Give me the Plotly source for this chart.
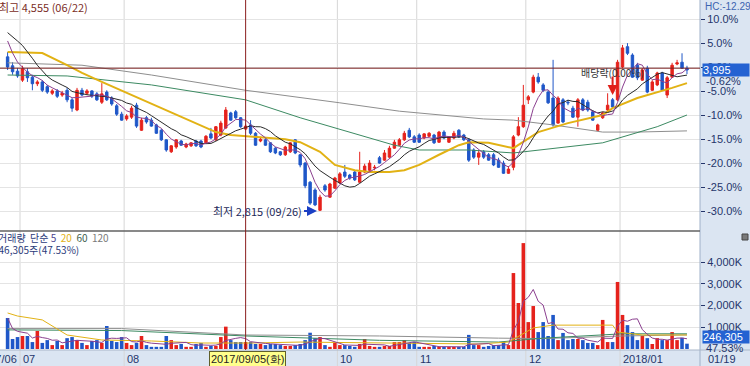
import pandas as pd
import plotly.graph_objects as go

# ---------------- data ----------------
holidays = ['2017-08-15', '2017-10-02', '2017-10-03', '2017-10-04', '2017-10-05',
            '2017-10-06', '2017-10-09', '2017-12-25', '2017-12-29', '2018-01-01']
dates = [d.strftime('%Y-%m-%d') for d in pd.bdate_range('2017-06-28', '2018-01-19')
         if d.strftime('%Y-%m-%d') not in holidays]

open_ = [4105, 4030, 3985, 3910, 3980, 3935, 3880, 3895, 3855, 3800, 3820, 3785, 3825, 3745, 3660, 3825,
         3800, 3820, 3795, 3725, 3810, 3760, 3695, 3625, 3585, 3600, 3700, 3490, 3595, 3575, 3535, 3490,
         3410, 3310, 3350, 3400, 3350, 3360, 3400, 3400, 3385, 3460, 3410, 3450, 3510, 3635, 3645, 3595,
         3500, 3535, 3465, 3400, 3410, 3385, 3340, 3310, 3285, 3310, 3410, 3285, 3215, 3055, 2990, 2820,
         3025, 2930, 3005, 3050, 3140, 3115, 3140, 3055, 3140, 3155, 3175, 3260, 3240, 3265, 3340, 3365,
         3410, 3490, 3435, 3450, 3425, 3440, 3450, 3390, 3475, 3390, 3425, 3490, 3450, 3410, 3325, 3265,
         3310, 3285, 3285, 3240, 3215, 3130, 3180, 3450, 3520, 3745, 3810, 3935, 3870, 3810, 3760, 3550,
         3745, 3725, 3675, 3600, 3745, 3725, 3645, 3490, 3595, 3660, 3745, 3745, 4020, 4190, 4120, 4035,
         3910, 4010, 3825, 3870, 3970, 3785, 3935, 4045, 4060, 4010]
high = [4145, 4060, 4010, 4030, 4010, 3955, 3910, 3910, 3870, 3835, 3835, 3820, 3845, 3760, 3845, 3845,
        3835, 3825, 3810, 3885, 3825, 3775, 3710, 3645, 3625, 3695, 3720, 3595, 3610, 3595, 3545, 3500,
        3415, 3365, 3415, 3410, 3385, 3390, 3410, 3410, 3450, 3510, 3525, 3570, 3685, 3645, 3660, 3600,
        3545, 3575, 3475, 3435, 3425, 3390, 3350, 3315, 3360, 3390, 3415, 3290, 3225, 3065, 3005, 2950,
        3040, 3050, 3100, 3140, 3200, 3125, 3150, 3310, 3210, 3240, 3200, 3275, 3325, 3360, 3410, 3425,
        3485, 3510, 3450, 3465, 3465, 3475, 3460, 3485, 3490, 3440, 3485, 3500, 3460, 3425, 3340, 3325,
        3325, 3300, 3300, 3260, 3235, 3190, 3450, 3600, 3870, 3785, 3955, 3970, 3885, 3825, 4080, 3775,
        3760, 3745, 3695, 3760, 3760, 3745, 3660, 3545, 3645, 3800, 3760, 4080, 4205, 4220, 4135, 4055,
        4010, 4030, 3910, 3980, 3980, 3945, 4055, 4080, 4135, 4030]
low = [3995, 3955, 3930, 3895, 3895, 3825, 3860, 3810, 3795, 3785, 3760, 3770, 3725, 3645, 3650, 3775,
       3785, 3760, 3735, 3710, 3735, 3695, 3610, 3570, 3570, 3585, 3510, 3485, 3545, 3520, 3460, 3400,
       3310, 3300, 3335, 3360, 3340, 3350, 3350, 3340, 3375, 3415, 3400, 3440, 3500, 3570, 3585, 3510,
       3490, 3450, 3360, 3390, 3360, 3300, 3290, 3275, 3275, 3300, 3290, 3180, 3005, 2865, 2855, 2815,
       2975, 2925, 3000, 3040, 3090, 3075, 3065, 3050, 3130, 3150, 3155, 3210, 3235, 3260, 3335, 3360,
       3400, 3425, 3385, 3385, 3415, 3435, 3375, 3385, 3415, 3385, 3415, 3425, 3400, 3225, 3250, 3200,
       3250, 3235, 3190, 3175, 3125, 3125, 3155, 3440, 3510, 3710, 3800, 3880, 3810, 3710, 3520, 3545,
       3550, 3700, 3595, 3520, 3650, 3645, 3570, 3485, 3585, 3650, 3675, 3735, 4010, 4120, 3930, 3910,
       3905, 3800, 3820, 3860, 3820, 3760, 3930, 4035, 4005, 3960]
close = [4020, 3980, 3945, 4005, 3930, 3880, 3895, 3825, 3810, 3820, 3775, 3800, 3745, 3675, 3825, 3785,
         3820, 3775, 3745, 3795, 3745, 3710, 3625, 3575, 3610, 3675, 3525, 3575, 3560, 3525, 3465, 3410,
         3325, 3360, 3410, 3365, 3375, 3385, 3360, 3350, 3440, 3425, 3520, 3550, 3660, 3575, 3595, 3520,
         3525, 3465, 3365, 3415, 3365, 3310, 3300, 3285, 3350, 3385, 3300, 3200, 3025, 2880, 2865, 2930,
         2990, 3040, 3090, 3125, 3105, 3090, 3075, 3140, 3190, 3215, 3180, 3215, 3300, 3340, 3390, 3410,
         3465, 3435, 3390, 3390, 3460, 3465, 3385, 3475, 3425, 3435, 3465, 3435, 3410, 3240, 3265, 3300,
         3265, 3240, 3200, 3180, 3130, 3165, 3435, 3520, 3700, 3770, 3935, 3895, 3825, 3720, 3535, 3760,
         3560, 3720, 3600, 3745, 3660, 3660, 3575, 3535, 3635, 3700, 3685, 4060, 4180, 4135, 3935, 3930,
         3995, 3810, 3895, 3970, 3825, 3930, 4035, 4055, 4010, 3995]
volume_k = [1430, 460, 550, 600, 600, 320, 830, 280, 410, 180, 370, 180, 500, 550, 410, 280,
            180, 370, 410, 280, 1060, 370, 320, 550, 280, 180, 280, 600, 180, 100, 100, 100,
            600, 410, 180, 230, 100, 100, 230, 280, 100, 140, 140, 550, 1030, 410, 320, 320,
            320, 320, 230, 230, 180, 230, 230, 180, 140, 140, 180, 230, 410, 750, 500, 550,
            180, 100, 280, 180, 180, 140, 100, 230, 460, 140, 100, 100, 140, 140, 320, 320,
            410, 280, 320, 100, 100, 100, 140, 100, 100, 100, 100, 100, 100, 650, 180, 180,
            100, 140, 180, 180, 320, 180, 3500, 2120, 4880, 1240, 1980, 780, 1240, 600, 1570, 410,
            740, 410, 460, 460, 410, 280, 280, 180, 1340, 320, 320, 3090, 1570, 1100, 780, 410,
            600, 500, 230, 500, 410, 410, 780, 410, 518.21, 246.305]
pre_close = [4300, 4330, 4380, 4420, 4460, 4480, 4330, 4230, 4130]   # closes before the window (for MA5/MA10)

# moving averages: (trading-day index, value)
ma20_idx = [0, 7, 12, 15, 19, 25, 32, 39, 42, 45, 49, 56, 59, 63, 66, 70, 73, 77, 80, 83, 87, 91, 93, 97,
            102, 107, 113, 120, 122, 127, 134, 137]
ma20_val = [4145, 4137, 4035, 3970, 3895, 3785, 3660, 3535, 3475, 3450, 3435, 3415, 3390, 3310, 3200, 3155,
            3140, 3140, 3155, 3200, 3285, 3365, 3390, 3385, 3340, 3475, 3550, 3618, 3675, 3760, 3845, 3885]
ma60_idx = [0, 12, 29, 48, 59, 69, 78, 83, 93, 102, 111, 120, 131, 137]
ma60_val = [3953, 3945, 3870, 3745, 3595, 3475, 3365, 3325, 3325, 3300, 3340, 3385, 3520, 3618]
ma120_idx = [0, 15, 29, 48, 67, 79, 96, 102, 110, 120, 127, 137]
ma120_val = [4055, 4035, 3953, 3825, 3720, 3650, 3585, 3575, 3535, 3475, 3475, 3485]

vma20_idx = [0, 2, 7, 12, 19, 29, 39, 49, 59, 79, 95, 101, 106, 110, 122, 123, 128, 137]
vma20_val = [1660, 1520, 1340, 645, 415, 370, 275, 275, 320, 275, 230, 320, 970, 1100, 1100, 780, 645, 645]
vma60_idx = [0, 23, 48, 75, 99, 108, 124, 137]
vma60_val = [880, 850, 600, 400, 320, 500, 700, 700]
vma120_idx = [0, 23, 48, 75, 99, 108, 124, 137]
vma120_val = [940, 940, 645, 600, 500, 480, 600, 650]

base_price = 4020
pct_ticks = [10, 5, 0, -5, -10, -15, -20, -25, -30]
vol_ticks_k = [1000, 2000, 3000, 4000]

# ---------------- derived ----------------
volume = [v * 1000 for v in volume_k]
allc = pd.Series(pre_close + close)
ma5 = allc.rolling(5).mean().iloc[len(pre_close):].tolist()
ma10 = allc.rolling(10).mean().iloc[len(pre_close):].tolist()
vma5 = pd.Series(volume).rolling(5, min_periods=1).mean().tolist()

RED = '#e5221c'
BLUE = '#1f57c8'
NAVY = '#25356b'
bar_colors = [RED if c >= o else BLUE for o, c in zip(open_, close)]

W, H = 750, 366
def px(x): return x / W
def py(y): return 1 - y / H

fig = go.Figure()

fig.add_trace(go.Candlestick(
    x=dates, open=open_, high=high, low=low, close=close,
    increasing=dict(line=dict(color=RED, width=1), fillcolor=RED),
    decreasing=dict(line=dict(color=BLUE, width=1), fillcolor=BLUE),
    whiskerwidth=0, xaxis='x', yaxis='y', hoverinfo='skip'))

def line(xi, yv, color, width, xa='x', ya='y'):
    fig.add_trace(go.Scatter(x=[dates[i] for i in xi], y=yv, mode='lines',
                             line=dict(color=color, width=width), xaxis=xa, yaxis=ya,
                             hoverinfo='skip'))

idx_all = list(range(len(dates)))
line(ma120_idx, ma120_val, '#8e8e8e', 1)
line(ma60_idx, ma60_val, '#3c8a62', 1)
line(ma20_idx, ma20_val, '#e2b214', 2)
line(idx_all, ma10, '#2a2a2a', 1)
line(idx_all, ma5, '#8b3f8f', 1)

fig.add_trace(go.Bar(x=dates, y=volume, marker=dict(color=bar_colors, line=dict(width=0)),
                     width=0.72, xaxis='x2', yaxis='y2', hoverinfo='skip'))
line(vma120_idx, [v * 1000 for v in vma120_val], '#8e8e8e', 1, 'x2', 'y2')
line(vma60_idx, [v * 1000 for v in vma60_val], '#3c8a62', 1, 'x2', 'y2')
line(vma20_idx, [v * 1000 for v in vma20_val], '#e2b214', 1, 'x2', 'y2')
line(idx_all, vma5, '#8b3f8f', 1, 'x2', 'y2')

spacing = 4.959
first_px = 7.6
xr = [-first_px / spacing, (700 - first_px) / spacing]

tickfont = dict(family='Liberation Sans Narrow, Liberation Sans, sans-serif', size=11, color=NAVY)

# y range for price panel (pixel 0..229)
p_top = base_price * (1 + (67 - 0) / 4.8 / 100)
p_bot = base_price * (1 + (67 - 229) / 4.8 / 100)

fig.update_layout(
    width=W, height=H, margin=dict(l=0, r=0, t=0, b=0),
    paper_bgcolor='white', plot_bgcolor='rgba(0,0,0,0)',
    showlegend=False, hovermode=False,
    font=dict(family='Liberation Sans, sans-serif', size=11, color=NAVY),
    xaxis=dict(domain=[0, px(700)], anchor='y', type='category', range=xr,
               showgrid=False, showticklabels=False, ticks='', rangeslider=dict(visible=False),
               zeroline=False, showline=False),
    xaxis2=dict(domain=[0, px(700)], anchor='y2', type='category', range=xr, matches='x',
                showgrid=False, showticklabels=False, ticks='', zeroline=False, showline=False),
    yaxis=dict(domain=[py(229), 1], anchor='x', side='right', range=[p_bot, p_top],
               tickmode='array', tickvals=[base_price * (1 + k / 100) for k in pct_ticks],
               ticktext=[f'{k:.1f}%' for k in pct_ticks], ticks='outside', ticklen=4,
               tickcolor=NAVY, tickfont=tickfont, showgrid=True, gridcolor='#e4e4e4',
               zeroline=False, showline=False),
    yaxis2=dict(domain=[py(349), py(232)], anchor='x2', side='right', range=[0, 117 / 21.7 * 1e6],
                tickmode='array', tickvals=[v * 1000 for v in vol_ticks_k],
                ticktext=[f'{v:,}K' for v in vol_ticks_k], ticks='outside', ticklen=4,
                tickcolor=NAVY, tickfont=tickfont, showgrid=True, gridcolor='#e4e4e4',
                zeroline=False, showline=False),
)

shapes = []
PANEL = '#dbe5f2'
# right panel & bottom strip backgrounds
shapes.append(dict(type='rect', xref='paper', yref='paper', x0=px(700), x1=1, y0=0, y1=1,
                   fillcolor=PANEL, line=dict(width=0), layer='below'))
shapes.append(dict(type='rect', xref='paper', yref='paper', x0=0, x1=1, y0=0, y1=py(350),
                   fillcolor=PANEL, line=dict(width=0), layer='below'))
# month gridlines
for b in [2.5, 23.5, 66.5, 82.5, 104.5, 123.5]:
    shapes.append(dict(type='line', xref='x', yref='paper', x0=b, x1=b, y0=0, y1=1,
                       line=dict(color='#d6d6d6', width=1), layer='below'))
# borders
shapes.append(dict(type='line', xref='paper', yref='paper', x0=px(700), x1=px(700), y0=0, y1=1,
                   line=dict(color='#9fb0c8', width=1)))
shapes.append(dict(type='line', xref='paper', yref='paper', x0=0, x1=1, y0=py(350), y1=py(350),
                   line=dict(color='#a9b6c8', width=1)))
shapes.append(dict(type='line', xref='paper', yref='paper', x0=0, x1=px(700), y0=py(231), y1=py(231),
                   line=dict(color='#626262', width=1.5)))
# crosshair
shapes.append(dict(type='line', xref='x', yref='paper', x0=48, x1=48, y0=py(350), y1=1,
                   line=dict(color='#8b1d1d', width=1)))
shapes.append(dict(type='line', xref='paper', yref='y', x0=0, x1=px(700), y0=4010, y1=4010,
                   line=dict(color='#7a2020', width=1)))
# small icon at volume panel
shapes.append(dict(type='rect', xref='paper', yref='paper', x0=px(742), x1=px(748), y0=py(240), y1=py(234),
                   fillcolor='#7a7a7a', line=dict(color='#444', width=1)))
fig.update_layout(shapes=shapes)

KR = 'Noto Sans CJK KR, sans-serif'
ann = []
ann.append(dict(text='최고 4,555 (06/22)', xref='paper', yref='paper', x=px(-3), y=py(7),
                xanchor='left', yanchor='middle', showarrow=False,
                font=dict(family=KR, size=11, color='#7b2d26')))
ann.append(dict(text='HC:-12.29', xref='paper', yref='paper', x=px(703), y=py(6),
                xanchor='left', yanchor='middle', showarrow=False,
                font=dict(size=10, color='#3b63b0', family=tickfont['family'])))
ann.append(dict(text=f'{close[-1]:,}', xref='paper', yref='y', x=px(702), y=close[-1],
                xanchor='left', yanchor='middle', showarrow=False, bgcolor='#2462d2',
                width=46, align='left', borderpad=0,
                font=dict(size=11, color='white', family=tickfont['family'])))
ann.append(dict(text=f'{(close[-1] / base_price - 1) * 100:.2f}%', xref='paper', yref='y', x=px(704),
                y=close[-1], yshift=-11, xanchor='left', yanchor='middle', showarrow=False,
                font=tickfont))
ann.append(dict(text='최저 2,815 (09/26)', xref='x', yref='y', x=63, y=min(low),
                ax=-16, ay=0, xanchor='right', yanchor='middle', showarrow=True,
                arrowhead=2, arrowsize=1, arrowwidth=2, arrowcolor='#1b3fc4', standoff=3,
                font=dict(family=KR, size=11, color='#1e2a5a')))
ann.append(dict(text='배당락(0.00%)', xref='x', yref='y', x=122, y=3970,
                xanchor='center', yanchor='middle', showarrow=False,
                font=dict(family=KR, size=10, color='#333333')))
ann.append(dict(text='', xref='x', yref='y', x=122, y=3785, ax=0, ay=-20, showarrow=True,
                arrowhead=2, arrowsize=1, arrowwidth=2, arrowcolor='#e0201a'))
ann.append(dict(text='거래량  단순 <span style="color:#4b3f8f">5</span>  '
                     '<span style="color:#e2b214">20</span>  <span style="color:#3f5f50">60</span>  '
                     '<span style="color:#7a7a7a">120</span>',
                xref='paper', yref='paper', x=px(-4), y=py(237.5), xanchor='left', yanchor='middle',
                showarrow=False, font=dict(family=KR, size=10, color='#2b3a7a')))
ann.append(dict(text=f'{int(round(volume[-1])):,}주({volume[-1] / volume[-2] * 100:.2f}%)',
                xref='paper', yref='paper', x=px(-9), y=py(249.5), xanchor='left', yanchor='middle',
                showarrow=False, font=dict(family=KR, size=10, color='#2b3a7a')))
ann.append(dict(text=f'{int(round(volume[-1])):,}', xref='paper', yref='paper', x=px(702), y=py(337),
                xanchor='left', yanchor='middle', showarrow=False, bgcolor='#2462d2', width=46,
                align='left', borderpad=0, font=dict(size=11, color='white', family=tickfont['family'])))
ann.append(dict(text=f'{volume[-1] / volume[-2] * 100:.2f}%', xref='paper', yref='paper', x=px(704),
                y=py(347.5), xanchor='left', yanchor='middle', showarrow=False, font=tickfont))
# bottom axis labels
for b, t in [(2.5, '07'), (23.5, '08'), (66.5, '10'), (82.5, '11'), (104.5, '12'), (123.5, '2018/01')]:
    ann.append(dict(text=t, xref='x', yref='paper', x=b, y=py(358.5), xanchor='left', xshift=1,
                    yanchor='middle', showarrow=False, font=tickfont))
ann.append(dict(text='2017/06', xref='x', yref='paper', x=2.5, y=py(358.5), xanchor='right', xshift=-1,
                yanchor='middle', showarrow=False, font=tickfont))
ann.append(dict(text='2017/09/05(화)', xref='x', yref='paper', x=48, y=py(358.5), xanchor='center',
                xshift=2, yanchor='middle', showarrow=False, bgcolor='#ffff8c', bordercolor='#5f5f2a',
                borderwidth=1, borderpad=1, font=dict(family=tickfont['family'], size=11, color='#222')))
ann.append(dict(text='01/19', xref='paper', yref='paper', x=px(722), y=py(358.5), xanchor='center',
                yanchor='middle', showarrow=False, font=tickfont))
fig.update_layout(annotations=ann)

fig.write_html('out.html', config={'displayModeBar': False})
